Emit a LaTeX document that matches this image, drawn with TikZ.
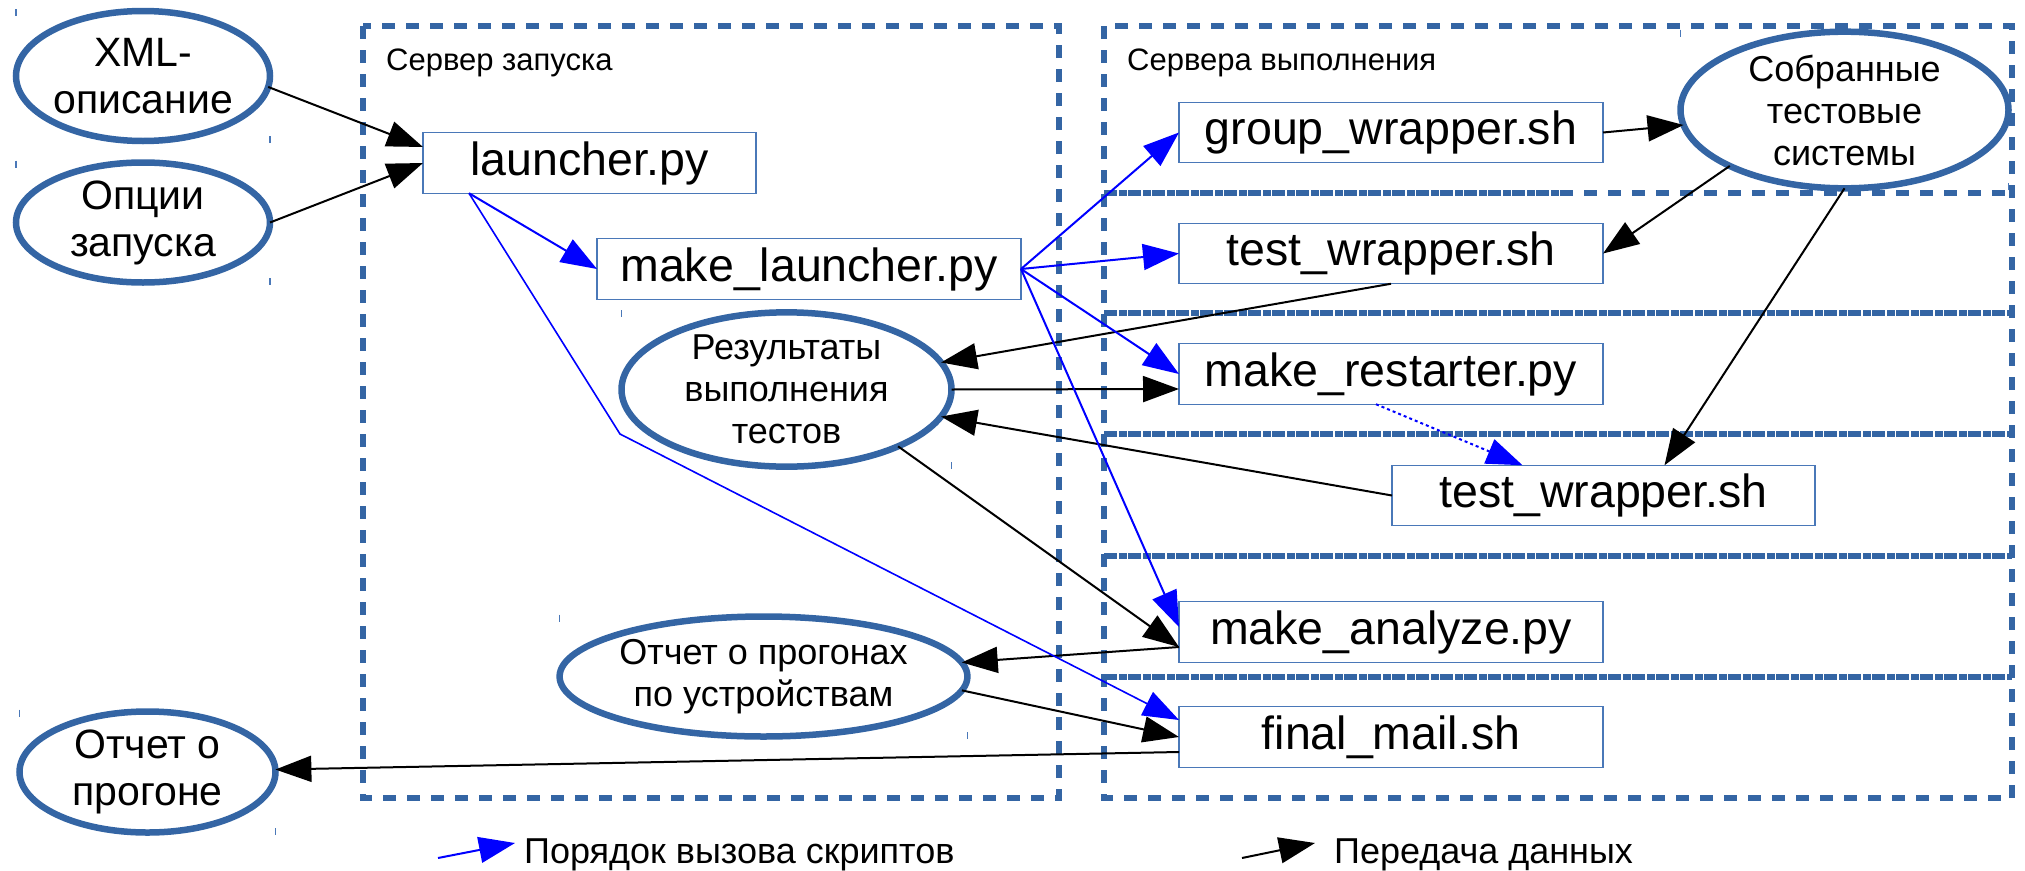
\documentclass[tikz,border=0pt]{standalone}
\usepackage{fontspec}
\setmainfont{Liberation Sans}
\usetikzlibrary{arrows.meta,calc,shapes.geometric}
\definecolor{frame}{HTML}{3465A4}
\definecolor{boxline}{HTML}{4A78B8}
\definecolor{callblue}{HTML}{0000FF}

\begin{document}
\begin{tikzpicture}[x=1pt,y=-1pt,
  oval/.style={ellipse, draw=frame, line width=6.5pt, fill=white, inner sep=0pt, outer sep=0pt, align=center},
  bigoval/.style={oval, font=\fontsize{41}{47}\selectfont},
  midoval/.style={oval, font=\fontsize{36}{42}\selectfont},
  script/.style={rectangle, draw=boxline, line width=1.3pt, fill=white, inner sep=0pt, outer sep=0pt,
                 minimum width=424pt, minimum height=60.5pt, font=\fontsize{46.5}{50}\selectfont},
  region/.style={draw=frame, line width=6pt, dash pattern=on 13pt off 11pt},
  regionfill/.style={draw=frame, line width=6pt, dash pattern=on 8pt off 16pt, dash phase=9pt},
  arrowhead/.style={-{Triangle[length=36pt,width=26pt]}},
  data/.style={draw=black, line width=2pt, arrowhead},
  call/.style={draw=callblue, line width=2pt, arrowhead},
  tick/.style={draw=boxline, line width=1.2pt},
  regionlabel/.style={anchor=base west, inner sep=0pt, font=\fontsize{31}{36}\selectfont},
  legendtext/.style={anchor=base west, inner sep=0pt, font=\fontsize{36}{42}\selectfont}
]
\useasboundingbox (0,0) rectangle (2025,870);

% server frames
\draw[region] (363,26) rectangle (1059,798);
\draw[region] (1104,26) rectangle (2012,798);
\foreach \yy in {193,313,434,556,677} {
  \draw[region] (1104,\yy) -- (2012,\yy);
}
\foreach \yy in {313,434,556,677} {
  \draw[regionfill] (1104,\yy) -- (2012,\yy);
}
\draw[regionfill] (1104,193) -- (1570,193);

\node[regionlabel] (srvlaunch) at (386,70) {Сервер запуска};
\node[regionlabel] (srvexec) at (1127,70) {Сервера выполнения};

% data items
\node[bigoval, minimum width=254pt, minimum height=130pt] (xml) at (143,76) {XML-\\описание};
\node[bigoval, minimum width=254pt, minimum height=120pt] (opt) at (143,222.5) {Опции\\запуска};
\node[bigoval, minimum width=256pt, minimum height=121pt] (otch) at (147.5,772) {Отчет о\\прогоне};
\node[midoval, minimum width=330pt, minimum height=150pt] (res) at (786.5,389.5) {Результаты\\выполнения\\тестов};
\node[midoval, minimum width=376pt, minimum height=120pt] (otp) at (763.5,676.5) {Отчет о прогонах\\по устройствам};
\node[midoval, minimum width=328pt, minimum height=135pt] (sob) at (1844.5,110) {Собранные\\тестовые\\системы};

% scripts
\node[script, minimum width=333pt] (launch) at (589.5,163) {launcher.py};
\node[script] (ml) at (809,269) {make\_launcher.py};
\node[script] (gw) at (1391,132.5) {group\_wrapper.sh};
\node[script] (tw1) at (1391,253.5) {test\_wrapper.sh};
\node[script] (mr) at (1391,374) {make\_restarter.py};
\node[script, minimum width=423pt] (tw2) at (1603.5,495.5) {test\_wrapper.sh};
\node[script] (ma) at (1391,632) {make\_analyze.py};
\node[script] (fm) at (1391,737) {final\_mail.sh};

% corner marks of the ovals
\foreach \n in {xml,opt,otch,res,otp,sob} {
  \draw[tick] ($(\n.west |- \n.north)+(0,-2)$) -- ++(0,7);
  \draw[tick] ($(\n.east |- \n.south)+(0,2)$) -- ++(0,-7);
}

% data transfer
\draw[data] (xml.-5) -- ($(launch.west)+(0,-16)$);
\draw[data] (opt.east) -- (launch.west);
\draw[data] (gw.east) -- (sob);
\draw[data] (sob.206) -- (tw1.east);
\draw[data] (sob.south) -- ($(tw2.north)+(61,0)$);
\draw[data] (tw1.south) -- (res);
\draw[data] (res.east) -- ($(mr.west)+(0,15)$);
\draw[data] (tw2.west) -- (res);
\draw[data] (res.-27) -- ($(ma.west)+(0,15)$);
\draw[data] ($(ma.west)+(0,15)$) -- (otp);
\draw[data] (otp.-4.5) -- (fm.west);
\draw[data] ($(fm.west)+(0,15)$) -- (otch);

% call order
\coordinate (bend) at (620,434);
\draw[call] ($(launch.south west)+(46,0)$) -- (ml.west);
\draw[call, line width=1.6pt] ($(launch.south west)+(46,0)$) -- (bend) -- ($(fm.west)+(0,-17)$);
\draw[call] (ml.east) -- (gw.west);
\draw[call] (ml.east) -- (tw1.west);
\draw[call] (ml.east) -- (mr.west);
\draw[call] (ml.east) -- ($(ma.west)+(0,-5)$);
\draw[call, dash pattern=on 3pt off 3pt] ($(mr.south)+(-15,0)$) -- ($(tw2.north)+(-81,0)$);

% legend
\coordinate (lcallA) at (438,858);
\coordinate (lcallB) at (515,843);
\coordinate (ldataA) at (1242,858);
\coordinate (ldataB) at (1315,843);
\draw[call] (lcallA) -- (lcallB);
\draw[data] (ldataA) -- (ldataB);
\node[legendtext] (legcall) at (524,863) {Порядок вызова скриптов};
\node[legendtext] (legdata) at (1334,863) {Передача данных};
\end{tikzpicture}
\end{document}
